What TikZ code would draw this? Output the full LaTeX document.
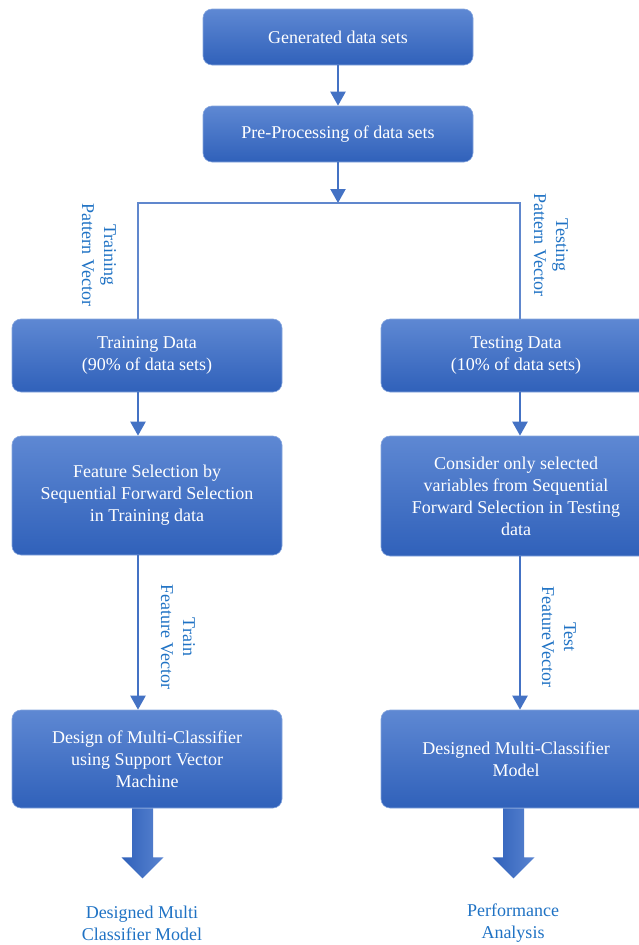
\documentclass[tikz,border=0pt]{standalone}
\usepackage{fontspec}
\setmainfont{Liberation Serif}
\usetikzlibrary{arrows.meta}

\definecolor{boxtop}{HTML}{5E88D3}
\definecolor{boxbot}{HTML}{3061BA}
\definecolor{edgeblue}{HTML}{4472C4}
\definecolor{lblblue}{HTML}{1F72C4}

\tikzset{
  box/.style={draw=boxtop!75!white, line width=0.6pt, rounded corners=9pt,
    top color=boxtop, bottom color=boxbot, text=white, align=center,
    minimum width=270pt, inner sep=0pt, font=\fontsize{18}{22}\selectfont},
  flow/.style={draw=edgeblue, line width=2.2pt, -{Triangle[width=15pt,length=14pt]}},
  split/.style={draw=edgeblue!85!white, line width=1.4pt},
  lbl/.style={text=lblblue, align=center, font=\fontsize{18}{22}\selectfont},
  bigarrow/.style={left color=boxbot, right color=boxtop!90!boxbot}
}

\begin{document}
\begin{tikzpicture}[x=1pt,y=-1pt]
\useasboundingbox (0,0) rectangle (639,945);
\clip (0,0) rectangle (639,945);

% boxes
\node[box, minimum height=56pt] (gen) at (338,37) {Generated data sets};
\node[box, minimum height=56pt] (pre) at (338,134) {Pre-Processing of data sets};
\node[box, minimum height=73pt] (train) at (147,355.5) {Training Data\\(90\% of data sets)};
\node[box, minimum height=73pt] (test) at (516,355.5) {Testing Data\\(10\% of data sets)};
\node[box, minimum height=119pt] (feat) at (147,495.5) {Feature Selection by\\Sequential Forward Selection\\in Training data};
\node[box, minimum height=120pt] (cons) at (516,496) {Consider only selected\\variables from Sequential\\Forward Selection in Testing\\data};
\node[box, minimum height=98pt] (svm) at (147,759) {Design of Multi-Classifier\\using Support Vector\\Machine};
\node[box, minimum height=98pt] (model) at (516,759) {Designed Multi-Classifier\\Model};

% labels
\node[lbl, rotate=-90] (trpat) at (99,255) {Training\\Pattern Vector};
\node[lbl, rotate=-90] (tspat) at (551,245) {Testing\\Pattern Vector};
\node[lbl, rotate=-90] (trfeat) at (178,637) {Train\\Feature Vector};
\node[lbl, rotate=-90] (tsfeat) at (559,637) {Test\\FeatureVector};
\node[lbl] (outl) at (142,923) {Designed Multi\\Classifier Model};
\node[lbl] (outr) at (513,923) {Performance\\Analysis};

% connectors
\coordinate (fork) at (338,203);
\draw[flow] (gen) -- (pre);
\draw[flow] (pre) -- (fork);
\draw[split] ([xshift=-9pt]train.north) |- (fork) -| ([xshift=4pt]test.north);
\draw[flow] ([xshift=-9pt]train.south) -- ([xshift=-9pt]feat.north);
\draw[flow] ([xshift=-9pt]feat.south) -- ([xshift=-9pt]svm.north);
\draw[flow] ([xshift=4pt]test.south) -- ([xshift=4pt]cons.north);
\draw[flow] ([xshift=4pt]cons.south) -- ([xshift=4pt]model.north);

% block arrows
\path[bigarrow] ([xshift=-4.5pt]svm.south) ++(-10.5,0) -- ++(0,49) -- ++(-10.5,0)
  -- ++(21,21) -- ++(21,-21) -- ++(-10.5,0) -- ++(0,-49) -- cycle;
\path[bigarrow] ([xshift=-2.5pt]model.south) ++(-10.5,0) -- ++(0,49) -- ++(-10.5,0)
  -- ++(21,21) -- ++(21,-21) -- ++(-10.5,0) -- ++(0,-49) -- cycle;
\end{tikzpicture}
\end{document}
